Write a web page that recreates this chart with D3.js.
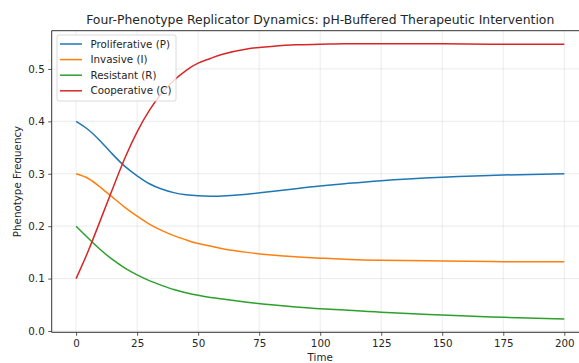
<!DOCTYPE html>
<html>
<head>
<meta charset="utf-8">
<script src="https://cdn.jsdelivr.net/npm/d3@7"></script>
<style>
  body { margin: 0; background: #fff; }
  svg { display: block; font-family: 'DejaVu Sans', sans-serif; }
</style>
</head>
<body>
<div class="chart"></div>
<script>
// values
const times = [0, 5, 10, 15, 20, 25, 30, 35, 40, 45, 50, 55, 60, 70, 80, 90, 100, 110, 125, 150, 175, 200];
const proliferative = [0.400, 0.384, 0.362, 0.337, 0.314, 0.296, 0.281, 0.271, 0.264, 0.260, 0.258, 0.257, 0.2575, 0.261, 0.266, 0.2715, 0.2767, 0.281, 0.2869, 0.2933, 0.2977, 0.300];
const invasive = [0.300, 0.291, 0.274, 0.255, 0.236, 0.219, 0.204, 0.192, 0.182, 0.174, 0.167, 0.162, 0.157, 0.150, 0.145, 0.1415, 0.139, 0.137, 0.135, 0.1336, 0.1323, 0.132];
const resistant = [0.200, 0.177, 0.155, 0.136, 0.120, 0.107, 0.096, 0.087, 0.079, 0.073, 0.068, 0.064, 0.061, 0.055, 0.050, 0.046, 0.0426, 0.040, 0.0357, 0.0305, 0.026, 0.0229];
const cooperative = [0.100, 0.153, 0.212, 0.272, 0.330, 0.380, 0.421, 0.453, 0.478, 0.497, 0.511, 0.520, 0.528, 0.538, 0.543, 0.546, 0.547, 0.548, 0.548, 0.548, 0.547, 0.547];

const seriesNames = ['Proliferative (P)', 'Invasive (I)', 'Resistant (R)', 'Cooperative (C)'];
const seriesValues = [proliferative, invasive, resistant, cooperative];
const xTicks = [0, 25, 50, 75, 100, 125, 150, 175, 200];
const yTicks = [0.0, 0.1, 0.2, 0.3, 0.4, 0.5];

const colors = ['#1f77b4', '#ff7f0e', '#2ca02c', '#d62728'];

const W = 579;
const H = 363;
const plot = { left: 51.7, right: 588.7, top: 30.7, bottom: 332.3 };
const fontSize = '10.3px';

const svg = d3.select('.chart')
  .append('svg')
  .attr('width', W)
  .attr('height', H);

const x = d3.scaleLinear()
  .domain([-10, 210])
  .range([plot.left, plot.right]);

const y = d3.scaleLinear()
  .domain([-0.0025, 0.573])
  .range([plot.bottom, plot.top]);

svg.append('defs').append('clipPath')
  .attr('id', 'clip')
  .append('rect')
  .attr('x', plot.left)
  .attr('y', plot.top)
  .attr('width', plot.right - plot.left)
  .attr('height', plot.bottom - plot.top);

// grid
const grid = svg.append('g');
grid.selectAll('.vgrid')
  .data(xTicks)
  .enter()
  .append('line')
  .attr('x1', (d) => x(d))
  .attr('x2', (d) => x(d))
  .attr('y1', plot.top)
  .attr('y2', plot.bottom)
  .attr('stroke', '#b0b0b0')
  .attr('stroke-opacity', 0.3)
  .attr('stroke-width', 0.8);
grid.selectAll('.hgrid')
  .data(yTicks)
  .enter()
  .append('line')
  .attr('x1', plot.left)
  .attr('x2', plot.right)
  .attr('y1', (d) => y(d))
  .attr('y2', (d) => y(d))
  .attr('stroke', '#b0b0b0')
  .attr('stroke-opacity', 0.3)
  .attr('stroke-width', 0.8);

// lines
const line = d3.line()
  .x((d) => x(d[0]))
  .y((d) => y(d[1]))
  .curve(d3.curveNatural);

svg.append('g')
  .attr('clip-path', 'url(#clip)')
  .selectAll('path')
  .data(seriesValues)
  .enter()
  .append('path')
  .attr('d', (vals) => line(vals.map((v, i) => [times[i], v])))
  .attr('fill', 'none')
  .attr('stroke', (d, i) => colors[i])
  .attr('stroke-width', 1.5);

// axes
const xAxis = svg.append('g')
  .attr('transform', `translate(0,${plot.bottom})`)
  .call(d3.axisBottom(x).tickValues(xTicks).tickSize(3.5).tickPadding(3.5).tickFormat(d3.format('d')));
const yAxis = svg.append('g')
  .attr('transform', `translate(${plot.left},0)`)
  .call(d3.axisLeft(y).tickValues(yTicks).tickSize(3.5).tickPadding(3.5).tickFormat(d3.format('.1f')));

[xAxis, yAxis].forEach((a) => {
  a.select('.domain').remove();
  a.selectAll('line').attr('stroke', '#333').attr('stroke-width', 0.8);
  a.selectAll('text')
    .attr('fill', '#262626')
    .style('font-family', "'DejaVu Sans', sans-serif")
    .style('font-size', fontSize);
});

// spines (left, bottom, top)
svg.append('line')
  .attr('x1', plot.left).attr('x2', plot.left)
  .attr('y1', plot.top).attr('y2', plot.bottom)
  .attr('stroke', '#333').attr('stroke-width', 1);
svg.append('line')
  .attr('x1', plot.left).attr('x2', plot.right)
  .attr('y1', plot.bottom).attr('y2', plot.bottom)
  .attr('stroke', '#333').attr('stroke-width', 1);
svg.append('line')
  .attr('x1', plot.left).attr('x2', plot.right)
  .attr('y1', plot.top).attr('y2', plot.top)
  .attr('stroke', '#333').attr('stroke-width', 1);

// title and labels
svg.append('text')
  .attr('x', (plot.left + plot.right) / 2)
  .attr('y', 23.5)
  .attr('text-anchor', 'middle')
  .attr('fill', '#262626')
  .style('font-size', '12.4px')
  .text('Four-Phenotype Replicator Dynamics: pH-Buffered Therapeutic Intervention');

svg.append('text')
  .attr('x', (plot.left + plot.right) / 2)
  .attr('y', 361)
  .attr('text-anchor', 'middle')
  .attr('fill', '#262626')
  .style('font-size', fontSize)
  .text('Time');

svg.append('text')
  .attr('transform', `translate(21,${(plot.top + plot.bottom) / 2}) rotate(-90)`)
  .attr('text-anchor', 'middle')
  .attr('fill', '#262626')
  .style('font-size', fontSize)
  .text('Phenotype Frequency');

// legend
const legend = svg.append('g').attr('transform', 'translate(57,35)');
legend.append('rect')
  .attr('width', 119)
  .attr('height', 66)
  .attr('rx', 2)
  .attr('fill', '#fff')
  .attr('fill-opacity', 0.8)
  .attr('stroke', '#d0d0d0')
  .attr('stroke-width', 0.8);
const items = legend.selectAll('.item')
  .data(seriesNames)
  .enter()
  .append('g')
  .attr('transform', (d, i) => `translate(0,${9 + i * 15.6})`);
items.append('line')
  .attr('x1', 3).attr('x2', 25)
  .attr('stroke', (d, i) => colors[i])
  .attr('stroke-width', 1.5);
items.append('text')
  .attr('x', 33.5)
  .attr('y', 3.6)
  .attr('fill', '#262626')
  .style('font-size', fontSize)
  .text((d) => d);
</script>
</body>
</html>
